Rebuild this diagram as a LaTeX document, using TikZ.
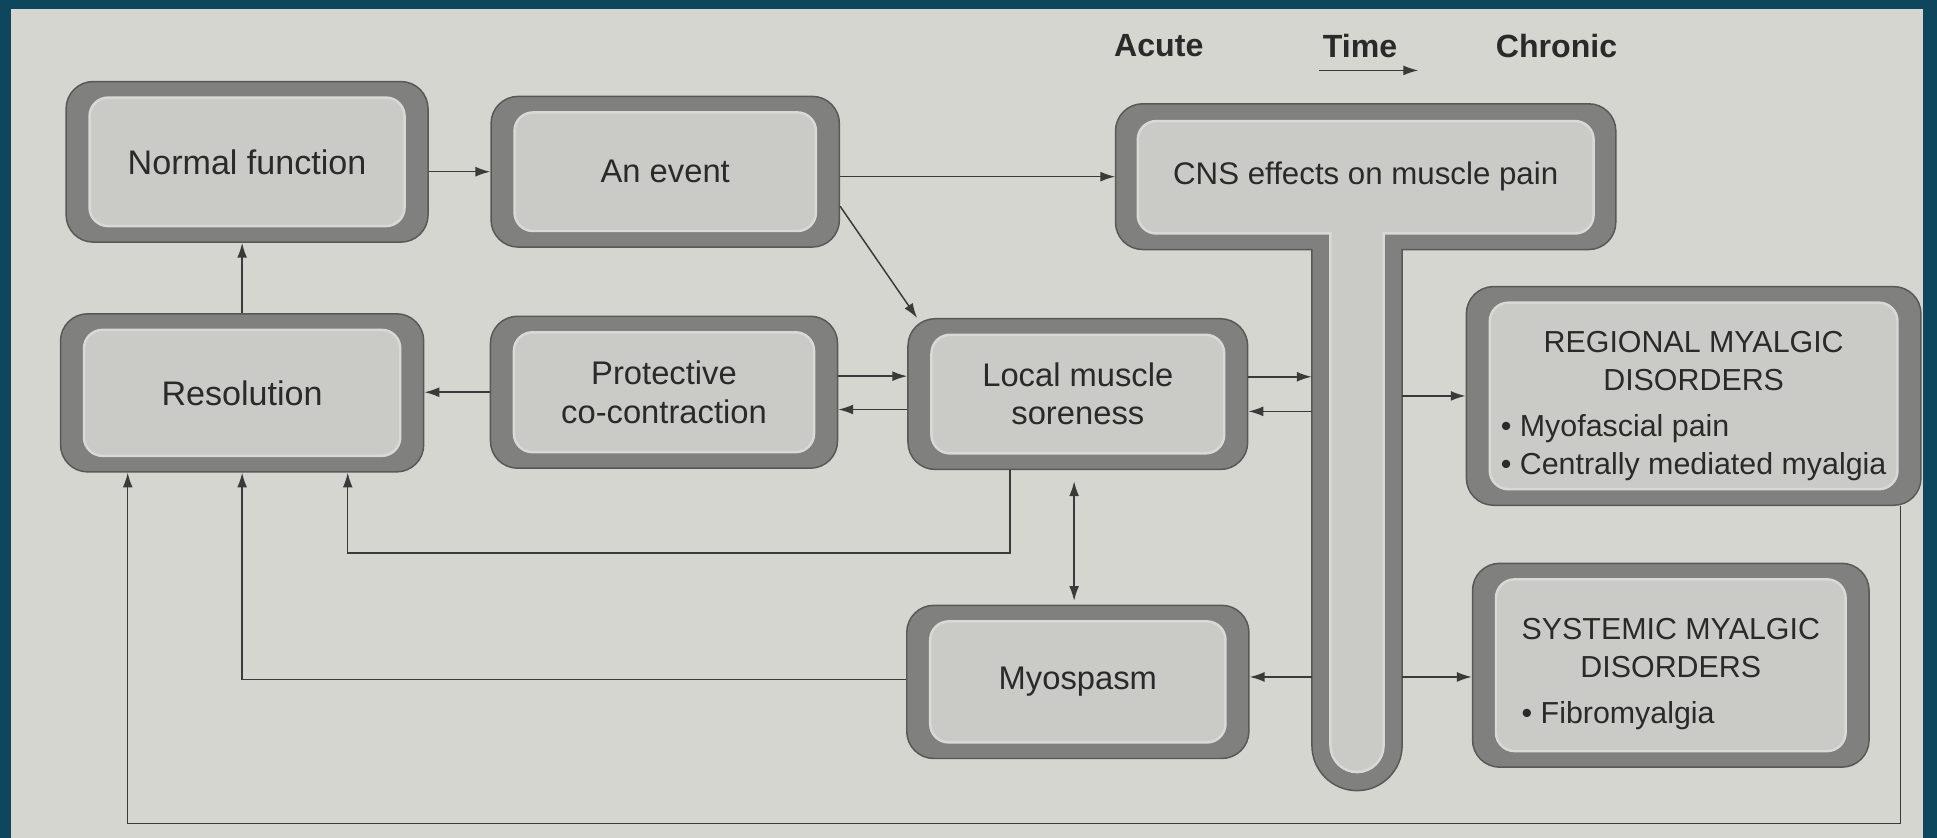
\documentclass[tikz,border=0pt]{standalone}
\usepackage{fontspec}
\setmainfont{Liberation Sans}
\usetikzlibrary{arrows.meta,calc}

\definecolor{frame}{HTML}{0E465D}
\definecolor{paper}{HTML}{D6D6D1}
\definecolor{rim}{HTML}{80807E}
\definecolor{rimedge}{HTML}{585856}
\definecolor{well}{HTML}{CACAC7}
\definecolor{welledge}{HTML}{D9D9D6}
\definecolor{ink}{HTML}{2A2A2A}
\definecolor{wire}{HTML}{3A3A3A}

\tikzset{
  boxtext/.style={font=\fontsize{26.5}{31}\selectfont, text=ink, align=center},
  fs/.style={font=\fontsize{#1}{31}\selectfont},
  head/.style={font=\bfseries\fontsize{26}{30}\selectfont, text=ink, inner sep=0pt},
  wh/.style 2 args={minimum width=#1pt, minimum height=#2pt},
  panel/.style={boxtext, rectangle, rounded corners=22pt, fill=rim, draw=rimedge,
    line width=1.2pt, inner sep=0pt,
    path picture={\draw[fill=well, draw=welledge, line width=2pt, rounded corners=15pt]
      ([shift={(19pt,13pt)}]path picture bounding box.south west) rectangle
      ([shift={(-19pt,-13pt)}]path picture bounding box.north east);}},
  conn/.style={draw=wire, line width=1.2pt, -{Latex[length=12pt,width=8pt]}},
  conntwo/.style={draw=wire, line width=1.2pt, {Latex[length=12pt,width=8pt]}-{Latex[length=12pt,width=8pt]}},
}

\begin{document}
\begin{tikzpicture}[x=1pt,y=-1pt]
  % page on its dark frame
  \fill[frame] (0,0) rectangle (1568,678);
  \fill[paper] (9,7) rectangle (1557,678);
  \useasboundingbox (0,0) rectangle (1568,678);

  % T-shaped CNS panel: outer rim
  \path[fill=rim, draw=rimedge, line width=1.2pt]
    (1062,202) -- (925,202) arc[start angle=90, end angle=180, radius=22]
    -- (903,106) arc[start angle=180, end angle=270, radius=22]
    -- (1286,84) arc[start angle=270, end angle=360, radius=22]
    -- (1308,180) arc[start angle=0, end angle=90, radius=22]
    -- (1135,202) -- (1135,603.5) arc[start angle=0, end angle=180, radius=36.5]
    -- cycle;
  % T-shaped CNS panel: inner well
  \path[fill=well, draw=welledge, line width=2pt]
    (1077,189) -- (936,189) arc[start angle=90, end angle=180, radius=15]
    -- (921,113) arc[start angle=180, end angle=270, radius=15]
    -- (1275,98) arc[start angle=270, end angle=360, radius=15]
    -- (1290,174) arc[start angle=0, end angle=90, radius=15]
    -- (1120,189) -- (1120,603.5) arc[start angle=0, end angle=180, radius=21.5]
    -- cycle;

  % anchors for the T panel
  \node[boxtext, fs=25.3, inner sep=0pt, wh={405}{118}] (cns) at (1105.5,143) {CNS effects on muscle pain};
  \node[inner sep=0pt, wh={73}{438}] (stem) at (1098.5,421) {};

  % heading
  \node[head] (acute) at (938,37) {Acute};
  \node[head] (time) at (1101,37) {Time};
  \node[head] (chronic) at (1260,37) {Chronic};
  \coordinate (tA) at (1068,57);
  \coordinate (tB) at (1148,57);
  \draw[conn, line width=1pt] (tA) -- (tB);

  % panels
  \node[panel, fs=27.6, wh={293}{130}] (nf) at (200,131) {Normal function};
  \node[panel, wh={282}{122}] (ev) at (538.5,139) {An event};
  \node[panel, fs=27.6, wh={294}{128}] (res) at (196,318) {Resolution};
  \node[panel, wh={281}{123}] (pc) at (537.5,317.5) {Protective\\co-contraction};
  \node[panel, wh={275}{122}] (lms) at (872.5,319) {Local muscle\\soreness};
  \node[panel, wh={277}{124}] (mys) at (872.5,552) {Myospasm};
  \node[panel, fs=24.6, wh={368}{177}] (reg) at (1371,320.5) {%
    \raisebox{-8pt}[\height][\depth]{%
    \begin{tabular}{@{}l@{}}
      \multicolumn{1}{@{}c@{}}{REGIONAL MYALGIC}\\
      \multicolumn{1}{@{}c@{}}{DISORDERS}\\[6pt]
      • Myofascial pain\\
      • Centrally mediated myalgia
    \end{tabular}}};
  \node[panel, fs=24.6, wh={321}{165}] (sys) at (1352.5,538.5) {%
    \raisebox{-7pt}[\height][\depth]{%
    \begin{tabular}{@{}l@{}}
      \multicolumn{1}{@{}c@{}}{SYSTEMIC MYALGIC}\\
      \multicolumn{1}{@{}c@{}}{DISORDERS}\\[6pt]
      • Fibromyalgia
    \end{tabular}}};

  % connectors along the top
  \draw[conn] (nf.east |- ev.west) -- (ev.west);
  \draw[conn] (ev.east |- cns.west) -- (cns.west);
  \draw[conn] ($(ev.east)+(0,28)$) -- ($(lms.north west)+(8,0)$);
  \draw[conn] (res.north) -- (res.north |- nf.south);

  % middle row
  \draw[conn] (pc.west) -- (pc.west -| res.east);
  \coordinate (pcA) at ($(pc.east)+(0,-13)$);
  \coordinate (pcB) at ($(pc.east)+(0,14)$);
  \draw[conn] (pcA) -- (pcA -| lms.west);
  \draw[conn] (pcB -| lms.west) -- (pcB);
  \coordinate (lmA) at ($(lms.east)+(0,-14)$);
  \coordinate (lmB) at ($(lms.east)+(0,14)$);
  \draw[conn] (lmA) -- (lmA -| stem.west);
  \draw[conn] (lmB -| stem.west) -- (lmB);
  \draw[conn] (stem.east |- reg.west) -- (reg.west);

  % lower row
  \coordinate (spY) at ($(mys.east)+(0,-4)$);
  \draw[conn] (spY -| stem.west) -- (spY);
  \draw[conn] (spY -| stem.east) -- (spY -| sys.west);
  \draw[conntwo, shorten <=9pt, shorten >=3pt] ($(lms.south)+(-3,0)$) -- ($(mys.north)+(-3,0)$);

  % returns to resolution
  \coordinate (resC) at ($(res.south)+(85.5,0)$);
  \draw[conn] ($(lms.south)+(-55,0)$) -- ++(0,67) -| (resC);
  \coordinate (resB) at ($(mys.west)+(0,-2)$);
  \draw[conn] (resB) -| (res.south);
  \coordinate (resA) at ($(res.south west)+(55,0)$);
  \draw[conn] ($(reg.south east)+(-17,0)$) -- ++(0,257) -| (resA);
\end{tikzpicture}
\end{document}
